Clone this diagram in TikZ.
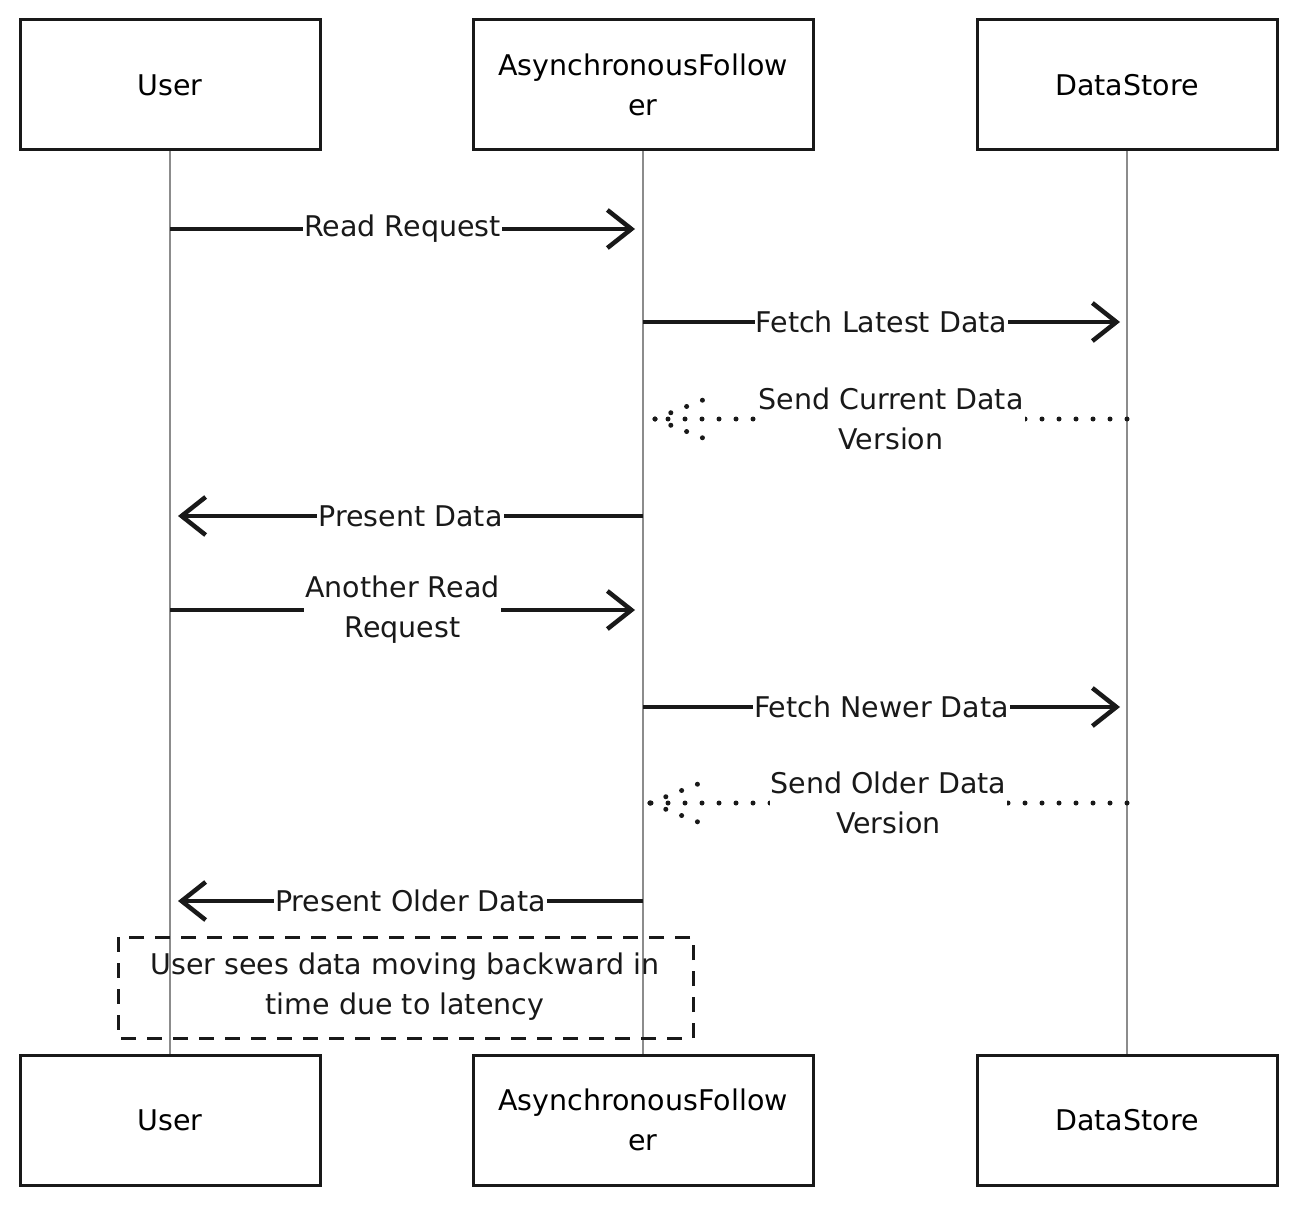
\documentclass[tikz,border=0pt]{standalone}
\usepackage{fontspec}
\setmainfont{DejaVu Sans}
\usetikzlibrary{arrows.meta}
\newcommand{\lblfont}{\fontsize{28.5}{40}\selectfont}
\begin{document}
\begin{tikzpicture}[x=1pt,y=-1pt,
  actor/.style={draw=black!90, line width=3pt, minimum width=300pt, minimum height=130pt, align=center, font=\lblfont, inner sep=0pt},
  life/.style={draw=black!45, line width=1.2pt},
  msg/.style={draw=black!90, line width=4.5pt, -{Straight Barb[length=24pt,width=38pt,line width=4.5pt]}},
  dotline/.style={draw=black!90, line width=5pt, line cap=round, dash pattern=on 0pt off 17pt},
  lbl/.style={fill=white, inner sep=1pt, align=center, font=\lblfont, text=black!90},
  note/.style={draw=black!90, line width=3pt, dash pattern=on 15pt off 11pt},
]
\useasboundingbox (0,0) rectangle (1297,1206);
\fill[white] (0,0) rectangle (1297,1206);

% actors
\node[actor] (ut) at (170,85) {User};
\node[actor, minimum width=340pt] (at) at (643,85) {AsynchronousFollow\\er};
\node[actor] (dt) at (1127,85) {DataStore};
\node[actor] (ub) at (170,1120) {User};
\node[actor, minimum width=340pt] (ab) at (643,1120) {AsynchronousFollow\\er};
\node[actor] (db) at (1127,1120) {DataStore};

% lifelines
\draw[life] (ut.south) -- (ub.north);
\draw[life] (at.south) -- (ab.north);
\draw[life] (dt.south) -- (db.north);

% coordinates on lifelines
\coordinate (u1) at (170,229);  \coordinate (a1) at (635,229);
\coordinate (a2) at (643,322);  \coordinate (d2) at (1120,322);
\coordinate (d3) at (1127,419); \coordinate (a3) at (655,419);
\coordinate (a4) at (643,516);  \coordinate (u4) at (178,516);
\coordinate (u5) at (170,610);  \coordinate (a5) at (635,610);
\coordinate (a6) at (643,707);  \coordinate (d6) at (1120,707);
\coordinate (d7) at (1127,803); \coordinate (a7) at (650,803);
\coordinate (a8) at (643,901);  \coordinate (u8) at (178,901);

% messages
\draw[msg] (u1) -- node[lbl] {Read Request} (a1);
\draw[msg] (a2) -- node[lbl] {Fetch Latest Data} (d2);

\path (d3) -- node[lbl, fill=none] (l3) {Send Current Data\\Version} (a3);
\draw[dotline] (d3) -- (a3);
\draw[dotline] (a3) -- ++(48,-19);
\draw[dotline] (a3) -- ++(48,19);
\node[lbl] at (l3) {Send Current Data\\Version};

\draw[msg] (a4) -- node[lbl] {Present Data} (u4);
\draw[msg] (u5) -- node[lbl] {Another Read\\Request} (a5);
\draw[msg] (a6) -- node[lbl] {Fetch Newer Data} (d6);

\path (d7) -- node[lbl, fill=none] (l7) {Send Older Data\\Version} (a7);
\draw[dotline] (d7) -- (a7);
\draw[dotline] (a7) -- ++(48,-19);
\draw[dotline] (a7) -- ++(48,19);
\node[lbl] at (l7) {Send Older Data\\Version};

\draw[msg] (a8) -- node[lbl] {Present Older Data} (u8);

% note
\draw[note] (118,937) rectangle (693,1038);
\node[lbl, fill=none] (nt) at (405,987) {User sees data moving backward in\\time due to latency};
\end{tikzpicture}
\end{document}
